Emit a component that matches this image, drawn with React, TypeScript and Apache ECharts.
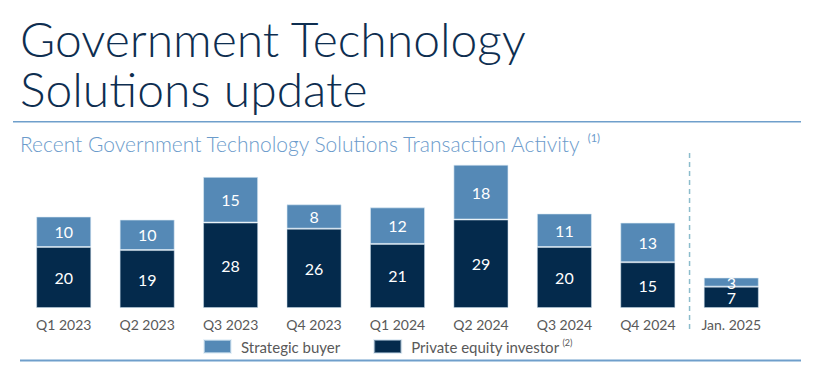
import React, { useEffect, useRef } from "react";
import * as echarts from "echarts";

const categories = ["Q1 2023", "Q2 2023", "Q3 2023", "Q4 2023", "Q1 2024", "Q2 2024", "Q3 2024", "Q4 2024", "Jan. 2025"];
const privateEquity = [20, 19, 28, 26, 21, 29, 20, 15, 7];
const strategic = [10, 10, 15, 8, 12, 18, 11, 13, 3];
const seriesNames = ["Strategic buyer", "Private equity investor"];
const titleLines = ["Government Technology", "Solutions update"];
const subtitle = "Recent Government Technology Solutions Transaction Activity";

const FONT = "Lato, 'Open Sans', sans-serif";

export default function App() {
  const ref = useRef<HTMLDivElement>(null);
  useEffect(() => {
    if (!ref.current) return;
    const chart = echarts.init(ref.current, undefined, { renderer: "svg" });
    const option: any = {
      animation: false,
      textStyle: { fontFamily: FONT },
      grid: { left: 22, right: 46, top: 155.5, bottom: 61 },
      xAxis: {
        type: "category",
        data: categories,
        axisLine: { show: false },
        axisTick: { show: false },
        axisLabel: { color: "#595959", fontSize: 14, margin: 9, fontFamily: FONT },
      },
      yAxis: { type: "value", min: 0, max: 50, show: false },
      legend: {
        left: 203,
        top: 338,
        padding: 0,
        itemWidth: 27,
        itemHeight: 13,
        itemGap: 33,
        icon: "rect",
        data: [seriesNames[0], seriesNames[1]],
        textStyle: {
          color: "#595959",
          fontSize: 15,
          fontFamily: FONT,
          padding: [0, 0, 0, 5],
          rich: {
            sup: { fontSize: 9, color: "#595959", verticalAlign: "top", padding: [0, 0, 8, 3], fontFamily: FONT },
          },
        },
        formatter: (name: string) => (name === seriesNames[1] ? name + "{sup|(2)}" : name),
      },
      series: [
        {
          name: seriesNames[1],
          type: "bar",
          stack: "total",
          barWidth: "66%",
          data: privateEquity,
          itemStyle: { color: "#042a4c", borderColor: "rgba(200,220,235,0.5)", borderWidth: 1 },
          label: { show: true, position: "inside", color: "#fff", fontSize: 16, fontFamily: FONT },
        },
        {
          name: seriesNames[0],
          type: "bar",
          stack: "total",
          barWidth: "66%",
          data: strategic,
          itemStyle: { color: "#5589b6", borderColor: "rgba(220,235,245,0.6)", borderWidth: 1 },
          label: { show: true, position: "inside", color: "#fff", fontSize: 16, fontFamily: FONT },
        },
      ],
      graphic: [
        {
          type: "text",
          left: 20,
          top: 14,
          style: { text: titleLines[0], fontSize: 48, lineHeight: 48, fontWeight: 300, fontFamily: FONT, fill: "#0e2e50" },
        },
        {
          type: "text",
          left: 20,
          top: 64,
          style: { text: titleLines[1], fontSize: 48, lineHeight: 48, fontWeight: 300, fontFamily: FONT, fill: "#0e2e50" },
        },
        { type: "rect", shape: { x: 13, y: 121, width: 788, height: 1.5 }, style: { fill: "#6f9fcb" } },
        {
          type: "text",
          left: 20,
          top: 132,
          style: {
            text: subtitle + " {sup|(1)}",
            fontSize: 21,
            fontWeight: 300,
            fontFamily: FONT,
            fill: "#6b9bcb",
            rich: {
              sup: { fontSize: 11, fill: "#6b9bcb", verticalAlign: "top", padding: [0, 0, 11, 0], fontFamily: FONT },
            } as any,
          },
        },
        { type: "rect", shape: { x: 20, y: 359.5, width: 781, height: 2 }, style: { fill: "#6f9fcb" } },
      ],
    };
    chart.setOption(option);
    const x7 = chart.convertToPixel({ xAxisIndex: 0 }, 7) as number;
    const x8 = chart.convertToPixel({ xAxisIndex: 0 }, 8) as number;
    const xm = (x7 + x8) / 2;
    chart.setOption({
      graphic: [
        ...option.graphic,
        {
          type: "line",
          shape: { x1: xm, y1: 153, x2: xm, y2: 333 },
          style: { stroke: "#8cbccc", lineWidth: 1.5, lineDash: [5, 4] },
        },
      ],
    });
    return () => chart.dispose();
  }, []);
  return <div ref={ref} style={{ position: "fixed", left: 0, top: 0, width: 819, height: 369, background: "#fff" }} />;
}
